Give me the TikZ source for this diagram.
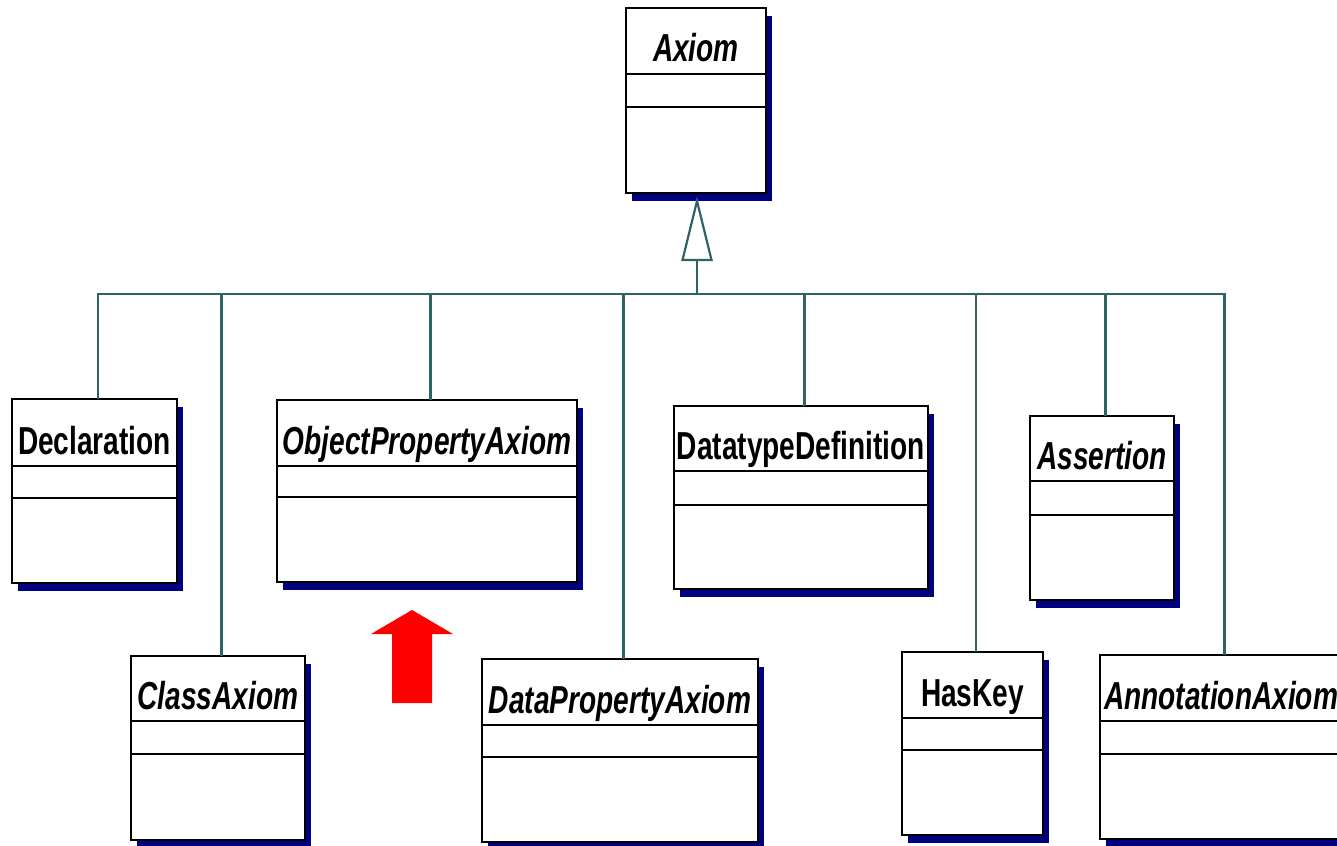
\documentclass[tikz,border=0pt]{standalone}
\usepackage{fontspec}
\usepackage{graphicx}
\setmainfont{Liberation Sans}
\usetikzlibrary{calc}

\definecolor{umlshadow}{HTML}{000080}
\definecolor{umlwire}{HTML}{2E6464}
\definecolor{hintred}{HTML}{FF0000}

\tikzset{
  classbox/.style={rectangle, draw=black, fill=white, line width=2.4pt,
                   inner sep=0pt, outer sep=0pt},
  classrule/.style={draw=black, line width=2.4pt},
  classshadow/.style={fill=umlshadow},
  classname/.style={anchor=base, inner sep=0pt,
                    font=\fontsize{39}{39}\selectfont\bfseries},
  wire/.style={draw=umlwire, line width=2.2pt, line join=miter},
  genhead/.style={draw=umlwire, fill=white, line width=2.2pt, line join=miter},
  hintarrow/.style={fill=hintred},
}

% UML class with shadow and two empty compartments
% #1 name, #2 left, #3 top, #4 right, #5 bottom, #6/#7 compartment rules,
% #8 shape switch, #9 class name
\newcommand\umlclass[9]{%
  \fill[classshadow] (#2+6,#3+8) rectangle (#4+6,#5+8);
  \node[classbox, anchor=north west,
        minimum width=#4pt-#2pt, minimum height=#5pt-#3pt] (#1) at (#2,#3) {};
  \draw[classrule] (#2,#6) -- (#4,#6) (#2,#7) -- (#4,#7);
  \node[classname] (#1-name) at ({(#2+#4)/2},#6-12) {\scalebox{0.72}[1]{#8#9}};
}

\begin{document}
\begin{tikzpicture}[x=1pt, y=-1pt]
  \useasboundingbox (0,0) rectangle (1337,845);
  \clip (0,0) rectangle (1337,845);
  \fill[white] (0,0) rectangle (1337,845);

  % classes
  \umlclass{axiom}{626}{8}{766}{193}{74}{107}{\itshape}{Axiom}
  \umlclass{decl}{12}{399}{177}{583}{466}{498}{\upshape}{Declaration}
  \umlclass{opa}{277}{400}{577}{582}{466}{497}{\itshape}{ObjectPropertyAxiom}
  \umlclass{dtd}{674}{406}{928}{589}{471}{505}{\upshape}{DatatypeDefinition}
  \umlclass{asrt}{1030}{416}{1174}{600}{481}{515}{\itshape}{Assertion}
  \umlclass{clax}{131}{656}{305}{840}{721}{754}{\itshape}{ClassAxiom}
  \umlclass{dpa}{482}{659}{758}{842}{725}{757}{\itshape}{DataPropertyAxiom}
  \umlclass{hkey}{902}{652}{1043}{835}{718}{750}{\upshape}{HasKey}
  \umlclass{annot}{1100}{655}{1342}{839}{721}{754}{\itshape}{AnnotationAxiom}

  % shared bus of the generalization tree
  \coordinate (bus) at (0,294);
  \foreach \c in {decl,opa,dtd,asrt,clax,dpa,hkey,annot}
    \coordinate (\c-tap) at ([xshift=3.5pt]\c.north);

  \draw[wire] (decl-tap) -- (decl-tap |- bus) -- (annot-tap |- bus) -- (annot-tap);
  \foreach \c in {opa,dtd,asrt,clax,dpa,hkey}
    \draw[wire] (\c-tap) -- (\c-tap |- bus);

  % hollow triangle pointing to the superclass
  \coordinate (tip) at ($(axiom.south)+(1,8)$);
  \coordinate (tbase) at ($(tip)+(0,59)$);
  \draw[wire] (tbase) -- (tbase |- bus);
  \draw[genhead] (tip) -- ($(tbase)+(-14.5,0)$) -- ($(tbase)+(14.5,0)$) -- cycle;

  % red pointer
  \fill[hintarrow] (412,610) -- (453,634) -- (432,634) -- (432,703)
                   -- (392,703) -- (392,634) -- (371,634) -- cycle;
\end{tikzpicture}
\end{document}
